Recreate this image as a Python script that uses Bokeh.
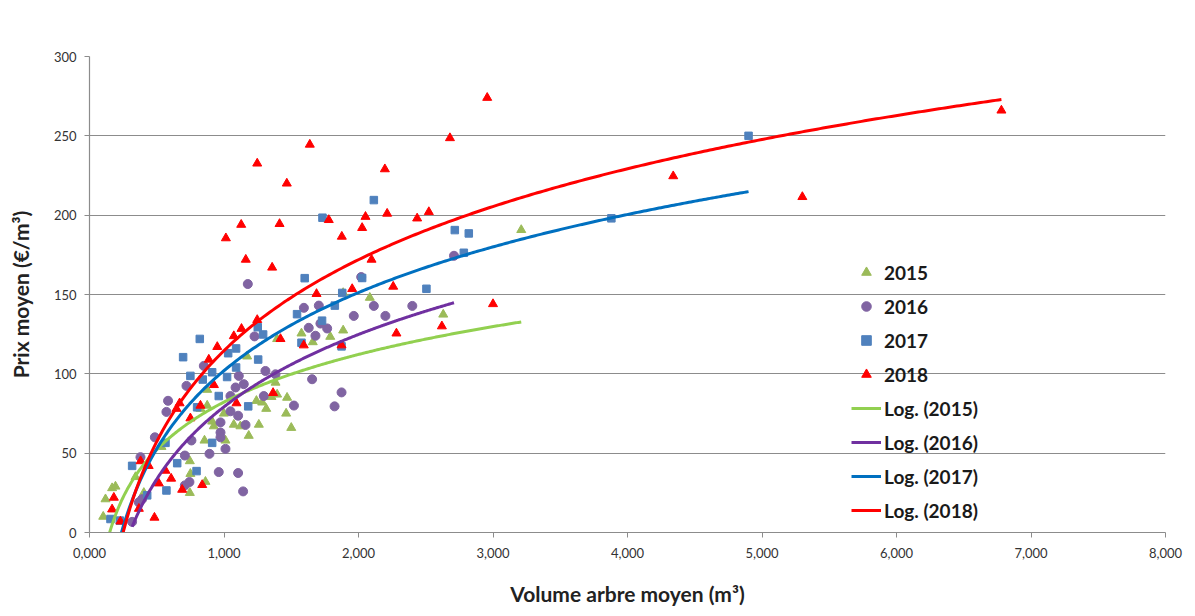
import numpy as np
from bokeh.plotting import figure
from bokeh.models import Range1d, FixedTicker, Legend, LegendItem
from bokeh.embed import file_html
from bokeh.resources import INLINE

# ---- data (volume m3, price EUR/m3) ----
x2015 = [0.102, 0.119, 0.168, 0.193, 0.342, 0.404, 0.535, 0.746, 0.75, 0.746, 0.862,
         0.825, 0.855, 0.875, 0.875, 0.912, 0.924, 0.999, 1.011, 1.073, 1.122, 1.172,
         1.184, 1.241, 1.259, 1.284, 1.314, 1.353, 1.395, 1.395, 1.383, 1.462, 1.469,
         1.5, 1.576, 1.66, 1.79, 1.886, 1.886, 2.084, 2.63, 3.21]
y2015 = [10, 21, 28, 29, 35, 25, 54, 45, 37, 25, 32,
         78, 58, 80, 90, 70, 67, 75, 58, 68, 67, 111,
         61, 83, 68, 82, 78, 85.5, 87, 122, 94.5, 75, 85,
         66, 125.5, 120, 123.4, 127.4, 151, 148, 137.4, 190.7]

x2016 = [0.317, 0.367, 0.391, 0.379, 0.486, 0.572, 0.584, 0.709, 0.709, 0.743, 0.721,
         0.758, 0.85, 0.892, 0.961, 0.974, 0.974, 0.974, 1.011, 1.048, 1.048, 1.086,
         1.105, 1.105, 1.11, 1.142, 1.147, 1.16, 1.177, 1.227, 1.296, 1.308, 1.383,
         1.52, 1.594, 1.63, 1.655, 1.68, 1.705, 1.717, 1.767, 1.822, 1.874, 1.965,
         2.02, 2.114, 2.2, 2.4, 2.71]
y2016 = [6.7, 19, 21, 47.5, 60, 76, 83, 48.5, 29.7, 31.8, 92.4,
         58, 105, 49.6, 38.1, 69.4, 63, 60, 52.7, 86, 76.4, 91.4,
         73.6, 37.5, 98.7, 25.9, 93.5, 67.8, 156.6, 123.6, 86, 101.8, 99.7,
         80, 141.6, 129, 96.6, 124, 143, 131.7, 128.6, 79.5, 88.3, 136.5,
         161, 142.8, 136.5, 142.8, 174.4]

x2017 = [0.156, 0.225, 0.317, 0.429, 0.572, 0.565, 0.652, 0.696, 0.75, 0.796, 0.8,
         0.82, 0.842, 0.912, 0.912, 0.961, 1.023, 1.031, 1.09, 1.09, 1.18, 1.251,
         1.254, 1.291, 1.543, 1.576, 1.6, 1.729, 1.732, 1.824, 1.874, 1.879, 2.027,
         2.114, 2.505, 2.716, 2.783, 2.82, 3.88, 4.90]
y2017 = [8.5, 7.5, 42, 23.4, 26.5, 56.5, 43.7, 110.5, 98.7, 38.7, 78.9,
         122, 96.4, 101, 56.5, 86, 98, 113, 104, 116, 79.5, 129.4,
         109, 124.8, 137.6, 119.6, 160.3, 133.5, 198.4, 143, 117.3, 151, 160.4,
         209.5, 153.6, 190.6, 176.3, 188.5, 198, 250]

x2018 = [0.168, 0.181, 0.23, 0.367, 0.38, 0.44, 0.483, 0.515, 0.565, 0.607, 0.647,
         0.67, 0.689, 0.75, 0.825, 0.838, 0.887, 0.925, 0.95, 1.073, 1.093, 1.13,
         1.247, 1.365, 1.42, 1.593, 1.874, 1.014, 1.128, 1.162, 1.247, 1.358, 1.413,
         1.467, 1.638, 1.688, 1.779, 1.876, 1.953, 2.027, 2.052, 2.097, 2.196, 2.213,
         2.258, 2.282, 2.436, 2.523, 2.62, 2.68, 2.957, 3.0, 4.34, 5.30, 6.78]
y2018 = [14.6, 22, 7, 15, 45, 42, 9.4, 31, 39, 34, 78,
         81.5, 27, 72, 80, 30, 109, 93, 117, 123.8, 81.5, 128.4,
         134, 88, 122, 118, 118, 185.5, 194, 172, 232.6, 167, 194.5,
         220, 244.5, 150.4, 197, 186.5, 153.5, 192, 199, 172, 229, 201,
         155, 125.5, 198, 202, 130, 248.6, 274, 144, 224.6, 211.5, 266]

# logarithmic trendlines y = a*ln(x) + b
trend_years = ["2015", "2016", "2017", "2018"]
trend_a = [43.3, 65.8, 71.0, 82.7]
trend_b = [82.2, 79.2, 102.0, 114.6]

x_ticks = [0, 1, 2, 3, 4, 5, 6, 7, 8]
x_tick_labels = ["0,000", "1,000", "2,000", "3,000", "4,000", "5,000", "6,000", "7,000", "8,000"]
y_ticks = [0, 50, 100, 150, 200, 250, 300]

FONT = "Lato"
GRID = "#8c8c8c"

p = figure(width=1187, height=608, output_backend="svg", toolbar_location=None,
           x_range=Range1d(0, 8), y_range=Range1d(0, 300),
           min_border_left=89, min_border_right=22, min_border_top=56, min_border_bottom=73)
p.outline_line_color = None
p.xgrid.grid_line_color = None
p.ygrid.grid_line_color = GRID
p.ygrid.grid_line_width = 1.2

p.xaxis.ticker = FixedTicker(ticks=x_ticks)
p.xaxis.major_label_overrides = {t: l for t, l in zip(x_ticks, x_tick_labels)}
p.yaxis.ticker = FixedTicker(ticks=y_ticks)
for ax in (p.xaxis, p.yaxis):
    ax.axis_line_color = GRID
    ax.axis_line_width = 1.2
    ax.major_tick_line_color = GRID
    ax.major_tick_in = 0
    ax.major_tick_out = 5
    ax.minor_tick_line_color = None
    ax.major_label_text_font = FONT
    ax.major_label_text_font_size = "13px"
    ax.major_label_text_color = "#333333"
    ax.axis_label_text_font = FONT
    ax.axis_label_text_font_size = "21px"
    ax.axis_label_text_font_style = "bold"
    ax.axis_label_text_color = "#222222"
p.xaxis.axis_label = "Volume arbre moyen (m³)"
p.yaxis.axis_label = "Prix moyen (€/m³)"
p.xaxis.major_label_standoff = 10
p.xaxis.axis_label_standoff = 20
p.yaxis.major_label_standoff = 8
p.yaxis.axis_label_standoff = 18

r15 = p.scatter(x2015, y2015, marker="triangle", size=9, color="#9BBB59")
r16 = p.scatter(x2016, y2016, marker="circle", size=9, color="#8064A2")
r17 = p.scatter(x2017, y2017, marker="square", size=7.5, color="#4F81BD")
r18 = p.scatter(x2018, y2018, marker="triangle", size=9, color="#FF0000")

series_x = [x2015, x2016, x2017, x2018]
line_colors = ["#92D050", "#7030A0", "#0070C0", "#FF0000"]
line_rs = []
for xs, a, b, c in zip(series_x, trend_a, trend_b, line_colors):
    xx = np.linspace(min(xs), max(xs), 300)
    yy = a * np.log(xx) + b
    line_rs.append(p.line(xx, yy, line_color=c, line_width=3))

items = [LegendItem(label="2015", renderers=[r15]),
         LegendItem(label="2016", renderers=[r16]),
         LegendItem(label="2017", renderers=[r17]),
         LegendItem(label="2018", renderers=[r18])]
for yr, r in zip(trend_years, line_rs):
    items.append(LegendItem(label="Log. (%s)" % yr, renderers=[r]))

legend = Legend(items=items, location=(762, 10), orientation="vertical")
legend.background_fill_alpha = 0
legend.border_line_alpha = 0
legend.padding = 0
legend.margin = 0
legend.spacing = 10
legend.label_height = 24
legend.glyph_height = 24
legend.glyph_width = 30
legend.label_standoff = 3
legend.label_text_font = FONT
legend.label_text_font_size = "19px"
legend.label_text_font_style = "bold"
legend.label_text_color = "#1a1a1a"
p.add_layout(legend)

open("out.html", "w").write(file_html(p, INLINE))
